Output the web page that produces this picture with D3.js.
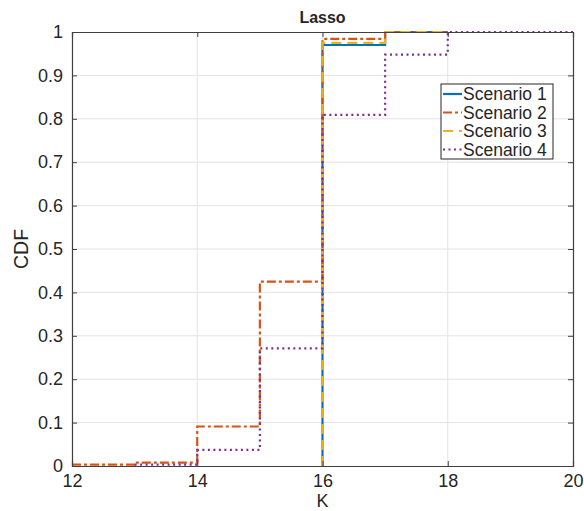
<!DOCTYPE html>
<meta charset="utf-8">
<style>
body { margin: 0; background: #fff; }
text { font-family: "Liberation Sans", Arial, Helvetica, sans-serif; fill: #262626; }
.grid line { stroke: #e3e3e3; stroke-width: 1; }
</style>
<svg width="584" height="511"></svg>
<script src="https://cdn.jsdelivr.net/npm/d3@7"></script>
<script>

var xTicks = [12, 14, 16, 18, 20];
var yTicks = [0, 0.1, 0.2, 0.3, 0.4, 0.5, 0.6, 0.7, 0.8, 0.9, 1];
var names = ["Scenario 1", "Scenario 2", "Scenario 3", "Scenario 4"];

// stair steps: K value where the CDF jumps, and the value after the jump
var s1K = [16, 16, 17, 18];
var s1F = [0, 0.970, 1, 1];
var s2K = [12, 13, 14, 15, 16, 17, 18];
var s2F = [0.003, 0.008, 0.091, 0.425, 0.984, 1, 1];
var s3K = [16, 16, 17, 18];
var s3F = [0, 0.975, 1, 1];
var s4K = [13, 14, 15, 16, 17, 18, 20];
var s4F = [0.003, 0.037, 0.271, 0.809, 0.948, 1, 1];

var colors = ["#0072BD", "#D95319", "#EDB120", "#7E2F8E"];
var dashes = [null, "9,3,3,3", "10,6", "2,3.5"];

var svg = d3.select("svg");
var margin = {left: 72, right: 11, top: 32, bottom: 45};
var width = 584 - margin.left - margin.right,
    height = 511 - margin.top - margin.bottom;

var x = d3.scaleLinear().domain([12, 20]).range([margin.left, margin.left + width]);
var y = d3.scaleLinear().domain([0, 1]).range([margin.top + height, margin.top]);

// grid
var grid = svg.append("g").attr("class", "grid");
grid.selectAll(".gx").data(xTicks.slice(1, -1)).enter().append("line")
    .attr("x1", d => x(d)).attr("x2", d => x(d))
    .attr("y1", y(0)).attr("y2", y(1));
grid.selectAll(".gy").data(yTicks.slice(1, -1)).enter().append("line")
    .attr("y1", d => y(d)).attr("y2", d => y(d))
    .attr("x1", x(12)).attr("x2", x(20));

// series
var series = [[s1K, s1F], [s2K, s2F], [s3K, s3F], [s4K, s4F]];
var line = d3.line().x(d => x(d[0])).y(d => y(d[1])).curve(d3.curveStepAfter);

series.forEach(function(s, i) {
  var pts = s[0].map((k, j) => [k, s[1][j]]);
  svg.append("path")
      .datum(pts)
      .attr("d", line)
      .attr("fill", "none")
      .attr("stroke", colors[i])
      .attr("stroke-width", 2.2)
      .attr("stroke-dasharray", dashes[i]);
});

// axes
var xAxis = d3.axisBottom(x).tickValues(xTicks).tickSize(-5).tickPadding(8).tickFormat(d3.format("d"));
var yAxis = d3.axisLeft(y).tickValues(yTicks).tickSize(-5).tickPadding(9).tickFormat(d => d === 0 || d === 1 ? d : d3.format(".1f")(d));

var gx = svg.append("g").attr("transform", "translate(0," + y(0) + ")").call(xAxis);
var gy = svg.append("g").attr("transform", "translate(" + x(12) + ",0)").call(yAxis);
var gxTop = svg.append("g").attr("transform", "translate(0," + y(1) + ")")
    .call(d3.axisTop(x).tickValues(xTicks).tickSize(-5).tickFormat(""));
var gyRight = svg.append("g").attr("transform", "translate(" + x(20) + ",0)")
    .call(d3.axisRight(y).tickValues(yTicks).tickSize(-5).tickFormat(""));

[gx, gy, gxTop, gyRight].forEach(function(g) {
  g.select(".domain").attr("stroke", "#404040").attr("stroke-width", 1.2);
  g.selectAll(".tick line").attr("stroke", "#404040");
  g.selectAll("text").attr("font-size", 18).attr("fill", "#262626")
      .attr("font-family", "'Liberation Sans', Arial, sans-serif");
});

// titles
svg.append("text").attr("x", x(16)).attr("y", 23).attr("text-anchor", "middle")
    .attr("font-size", 16).attr("font-weight", "bold").attr("fill", "#000").text("Lasso");
svg.append("text").attr("x", x(16)).attr("y", 507).attr("text-anchor", "middle")
    .attr("font-size", 18).text("K");
svg.append("text").attr("transform", "translate(28," + y(0.5) + ") rotate(-90)")
    .attr("text-anchor", "middle").attr("font-size", 19.5).text("CDF");

// legend
var lg = svg.append("g").attr("transform", "translate(441,84)");
lg.append("rect").attr("width", 112).attr("height", 75)
    .attr("fill", "#fff").attr("stroke", "#262626").attr("stroke-width", 1);
names.forEach(function(n, i) {
  var yy = 10 + i * 18.5;
  lg.append("line").attr("x1", 2).attr("x2", 21).attr("y1", yy).attr("y2", yy)
      .attr("stroke", colors[i]).attr("stroke-width", 2.2)
      .attr("stroke-dasharray", dashes[i]);
  lg.append("text").attr("x", 22).attr("y", yy + 6.3).attr("font-size", 17.5).text(n);
});

</script>
